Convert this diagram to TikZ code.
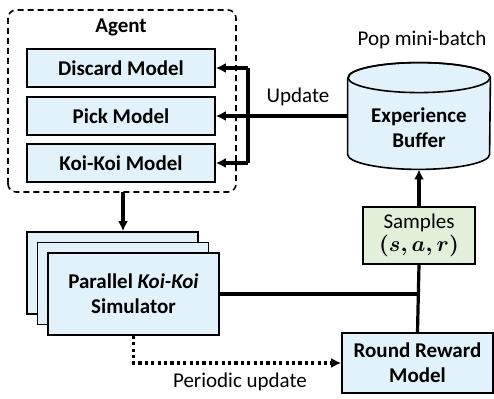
\documentclass[tikz,border=0pt]{standalone}
\usepackage{amsmath, amssymb, tikz}
\usepackage{fontspec}
\setmainfont{Carlito}
\usetikzlibrary{calc, arrows.meta}

\definecolor{boxblue}{RGB}{225,242,250}
\definecolor{boxgreen}{RGB}{226,239,217}

\begin{document}
\begin{tikzpicture}[x=0.5pt, y=0.5pt,
    every node/.style={font=\fontsize{10.5}{12.5}\selectfont},
    model/.style={draw, line width=0.8pt, fill=boxblue, minimum width=94pt, minimum height=19pt, font=\fontsize{10.5}{12.5}\selectfont\bfseries},
    simbox/.style={draw, line width=0.8pt, fill=boxblue, minimum width=85.5pt, minimum height=41pt, align=center},
    link/.style={line width=1.6pt},
    tip/.style={-{Latex[length=5pt, width=5pt]}},
    dotlink/.style={line width=1.6pt, dash pattern=on 1.6pt off 1.6pt}]
    \useasboundingbox (0,0) rectangle (494,399);

    % Agent and its three models
    \draw [line width=0.8pt, dash pattern=on 3pt off 2pt, rounded corners=4pt] (8,207) rectangle (236,389);
    \node (AgentLabel) at (121,372) {\bfseries Agent};
    \node [model] (Discard) at (121,331) {Discard Model};
    \node [model] (Pick)    at (121,283) {Pick Model};
    \node [model] (KoiKoi)  at (121,236) {Koi-Koi Model};

    % Experience buffer (drawn as a cylinder round an empty node)
    \node [minimum width=71pt, minimum height=53pt, inner sep=0pt] (Buffer) at (419,283) {};
    \draw [line width=0.8pt, fill=boxblue]
        ($(Buffer.north west)+(0,-15)$) -- ($(Buffer.south west)+(0,15)$)
        arc [start angle=180, end angle=360, x radius=71, y radius=15]
        -- ($(Buffer.north east)+(0,-15)$)
        arc [start angle=0, end angle=180, x radius=71, y radius=15];
    \draw [line width=0.8pt] ($(Buffer.north)+(0,-15)$) ellipse [x radius=71, y radius=15];
    \node [align=center, font=\fontsize{10.5}{12.5}\selectfont\bfseries] (BufferText) at (419,271) {Experience\\Buffer};
    \node (PopLabel) at (422,359) {Pop mini-batch};

    % Samples and reward model
    \node [draw, line width=0.8pt, fill=boxgreen, minimum width=56pt, minimum height=28.5pt, align=center, inner sep=1pt]
        (Samples) at (419,163.5) {Samples\\[-1pt]{\boldmath$(s, a, r)$}};
    \node [draw, line width=0.8pt, fill=boxblue, minimum width=75.5pt, minimum height=30pt, align=center, font=\fontsize{10.5}{12.5}\selectfont\bfseries]
        (Reward) at (417.5,36) {Round Reward\\Model};

    % Stack of simulators
    \node [simbox] (SimBack) at (112.5,126) {};
    \node [simbox] (SimMid)  at (123,115.5) {};
    \node [simbox, font=\fontsize{10.5}{12.5}\selectfont\bfseries] (Sim) at (133.5,105) {Parallel \textit{Koi-Koi}\\Simulator};

    \coordinate (UpTop)    at (248,331);
    \coordinate (UpBot)    at (248,236);
    \coordinate (AgentBot) at (123,207);
    \coordinate (Join)     at (Samples.south |- Sim.east);
    \coordinate (DotTurn)  at (Sim.south |- Reward.west);

    \draw [link] (UpTop) -- (UpBot);% update bracket
    \draw [link,tip] (UpTop) -- (Discard.east);
    \draw [link,tip] (Buffer.west) -- (Pick.east);
    \draw [link,tip] (UpBot) -- (KoiKoi.east);
    \node (UpdateLabel) at (298,302) {Update};

    \draw [link,tip] (AgentBot) -- (SimBack.north -| AgentBot);
    \draw [link,tip] (Samples.north) -- (Buffer.south);
    \draw [link] (Samples.south) -- (Reward.north);
    \draw [link] (Sim.east) -- (Join);
    \draw [dotlink,tip] (Sim.south) -- (DotTurn) -- (Reward.west);% periodic update
    \node (PeriodicLabel) at (240,17) {Periodic update};
\end{tikzpicture}
\end{document}
